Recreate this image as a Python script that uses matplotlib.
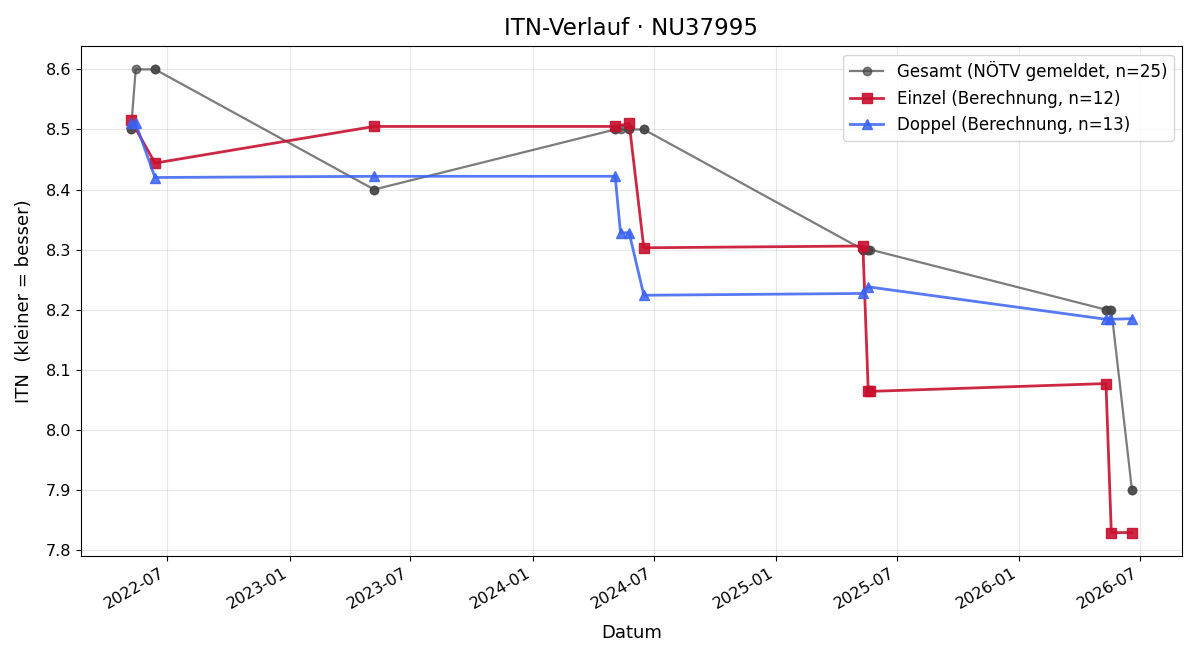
import matplotlib
matplotlib.use("Agg")
import matplotlib.pyplot as plt
import matplotlib.dates as mdates
import pandas as pd

# Einzel (12 Spiele)
einzel_dates = ["2022-05-08", "2022-06-13", "2023-05-08", "2024-05-04", "2024-05-25", "2024-06-16",
                "2025-05-11", "2025-05-19", "2025-05-22", "2026-05-11", "2026-05-19", "2026-06-19"]
einzel_itn = [8.515, 8.444, 8.505, 8.505, 8.510, 8.303, 8.306, 8.065, 8.064, 8.077, 7.829, 7.829]

# Doppel (13 Spiele)
doppel_dates = ["2022-05-08", "2022-05-15", "2022-06-13", "2023-05-08", "2024-05-04", "2024-05-12",
                "2024-05-25", "2024-06-16", "2025-05-11", "2025-05-19", "2026-05-11", "2026-05-17",
                "2026-06-19"]
doppel_itn = [8.510, 8.510, 8.420, 8.422, 8.422, 8.328, 8.328, 8.224, 8.227, 8.238, 8.184, 8.184, 8.185]

# Gesamt (NÖTV gemeldet, 25)
gesamt_dates = ["2022-05-08", "2022-05-08", "2022-05-15", "2022-06-13", "2022-06-13", "2023-05-08",
                "2023-05-08", "2024-05-04", "2024-05-04", "2024-05-12", "2024-05-25", "2024-05-25",
                "2024-06-16", "2024-06-16", "2025-05-11", "2025-05-11", "2025-05-19", "2025-05-19",
                "2025-05-22", "2026-05-11", "2026-05-11", "2026-05-17", "2026-05-19", "2026-06-19",
                "2026-06-19"]
gesamt_itn = [8.5, 8.5, 8.6, 8.6, 8.6, 8.4, 8.4, 8.5, 8.5, 8.5, 8.5, 8.5, 8.5, 8.5,
              8.3, 8.3, 8.3, 8.3, 8.3, 8.2, 8.2, 8.2, 8.2, 7.9, 7.9]

fig, ax = plt.subplots(figsize=(12, 6.6), dpi=100)

ax.plot(pd.to_datetime(gesamt_dates), gesamt_itn, marker='o', markersize=6, linewidth=1.6,
        color='#444444', alpha=0.7, label='Gesamt (NÖTV gemeldet, n=25)')
ax.plot(pd.to_datetime(einzel_dates), einzel_itn, marker='s', markersize=7, linewidth=2,
        color='#c8102e', alpha=0.9, label='Einzel (Berechnung, n=12)')
ax.plot(pd.to_datetime(doppel_dates), doppel_itn, marker='^', markersize=7, linewidth=2,
        color='#3a62f2', alpha=0.85, label='Doppel (Berechnung, n=13)')

ax.set_title('ITN-Verlauf · NU37995', fontsize=16.5, pad=8)
ax.set_xlabel('Datum', fontsize=13, labelpad=9)
ax.set_ylabel('ITN  (kleiner = besser)', fontsize=13, labelpad=9)
ax.xaxis.set_major_locator(mdates.MonthLocator(bymonth=[1, 7]))
ax.xaxis.set_major_formatter(mdates.DateFormatter('%Y-%m'))
ax.grid(True, alpha=0.3)
ax.legend(loc='upper right', fontsize=12)
ax.tick_params(labelsize=11.5)
fig.autofmt_xdate()

fig.subplots_adjust(left=0.0675, right=0.985, top=0.930, bottom=0.158)
plt.savefig("out.png", dpi=100)
